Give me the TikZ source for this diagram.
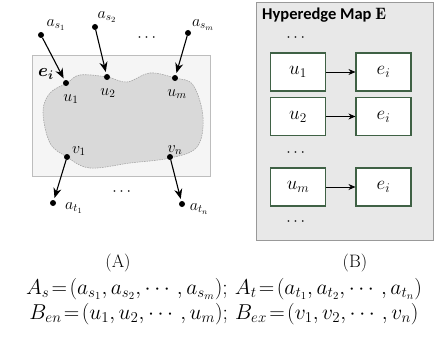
\RequirePackage{fix-cm}
\documentclass[tikz,border=0pt]{standalone}
\usepackage{amsmath,bm}
\usepackage{fontspec}
\newfontfamily\titlefont{Carlito}
\usetikzlibrary{arrows.meta}
\definecolor{boxgreen}{HTML}{3F6145}
\definecolor{rimgray}{HTML}{BDBDBD}
\definecolor{blobgray}{HTML}{D9D9D9}
\definecolor{panelgray}{HTML}{E8E8E8}
\newcommand{\tightlines}{\lineskiplimit=-50pt\relax}
\begin{document}
\begin{tikzpicture}[x=1pt,y=-1pt,
  pt/.style={circle,fill=black,inner sep=0pt,minimum size=6pt},
  arr/.style={-{Stealth[length=10pt,width=8pt]},line width=1.1pt,shorten >=2pt},
  lbl/.style={inner sep=0pt,font=\fontsize{16}{18}\selectfont},
  mapbox/.style={draw=boxgreen,line width=1.1pt,fill=white,minimum width=55pt,minimum height=38pt,inner sep=0pt,font=\fontsize{19}{21}\selectfont},
  maparr/.style={-{Stealth[length=7pt,width=6pt]},line width=0.8pt},
  dotsty/.style={inner sep=0pt,font=\fontsize{16}{18}\selectfont}]
\useasboundingbox (0,0) rectangle (447,345);
% Panel A
\node[draw=rimgray,fill=black!4,line width=1pt,minimum width=178pt,minimum height=120pt,inner sep=0pt] (frameA) at (121,116) {};
\draw[draw=black!35,fill=blobgray,dash pattern=on 1.5pt off 1pt,line width=0.6pt]
  plot[smooth cycle,tension=0.6] coordinates {(67,83) (80,75) (107,77) (127,82) (150,73) (175,78) (193,85) (203,117) (197,147) (170,158) (130,163) (90,168) (67,157) (50,143) (43,112) (50,93)};
\node[inner sep=0pt,font=\fontsize{18}{20}\selectfont] (ei) at (46,74) {$\bm{e_i}$};
\node[pt] (u1) at (66,83) {};
\node[pt] (u2) at (107,77) {};
\node[pt] (um) at (175,78) {};
\node[pt] (v1) at (67,157) {};
\node[pt] (vn) at (170,157) {};
\node[pt] (as1) at (41,35) {};
\node[pt] (as2) at (95,27) {};
\node[pt] (asm) at (188,33) {};
\node[pt] (at1) at (53,203) {};
\node[pt] (atn) at (182,204) {};
\node[lbl] (lu1) at (71,99) {$u_1$};
\node[lbl] (lu2) at (108,93) {$u_2$};
\node[lbl] (lum) at (177,94) {$u_m$};
\node[lbl] (lv1) at (79,151) {$v_1$};
\node[lbl] (lvn) at (175,150) {$v_n$};
\node[lbl] (las1) at (56,25) {$a_{s_1}$};
\node[lbl] (las2) at (107,17) {$a_{s_2}$};
\node[lbl] (lasm) at (203,25) {$a_{s_m}$};
\node[lbl] (lat1) at (74,208) {$a_{t_1}$};
\node[lbl] (latn) at (199,209) {$a_{t_n}$};
\node[dotsty] (d1) at (148,38) {$\cdots$};
\node[dotsty] (d2) at (123,192) {$\cdots$};
\draw[arr] (as1) -- (u1);
\draw[arr] (as2) -- (u2);
\draw[arr] (asm) -- (um);
\draw[arr] (v1) -- (at1);
\draw[arr] (vn) -- (atn);
% Panel B
\node[draw=black!40,fill=panelgray,line width=1pt,minimum width=177pt,minimum height=237pt,inner sep=0pt] (frameB) at (344.5,121.5) {};
\node[anchor=west,inner sep=0pt,font=\titlefont\bfseries\fontsize{16.5}{18}\selectfont] (title) at (262,15) {Hyperedge Map $\mathbf{E}$};
\node[dotsty] (b1) at (297,38) {$\cdots$};
\node[mapbox] (bu1) at (298,72) {$u_1$};
\node[mapbox] (be1) at (383.5,72) {$e_i$};
\node[mapbox] (bu2) at (298,116.5) {$u_2$};
\node[mapbox] (be2) at (383.5,116.5) {$e_i$};
\node[dotsty] (b2) at (297,153) {$\cdots$};
\node[mapbox] (bum) at (298,187) {$u_m$};
\node[mapbox] (bem) at (383.5,187) {$e_i$};
\node[dotsty] (b3) at (297,222) {$\cdots$};
\draw[maparr] (bu1) -- (be1);
\draw[maparr] (bu2) -- (be2);
\draw[maparr] (bum) -- (bem);
% captions
\node[inner sep=0pt,font=\fontsize{18}{20}\selectfont] (capA) at (118,263) {(A)};
\node[inner sep=0pt,font=\fontsize{18}{20}\selectfont] (capB) at (355,263) {(B)};
\node[inner sep=0pt,align=center,font=\fontsize{21.5}{25}\selectfont\tightlines] (eqs) at (224,301.5)
  {$A_s\!=\!(a_{s_1},a_{s_2},\cdots,a_{s_m});\,A_t\!=\!(a_{t_1},a_{t_2},\cdots,a_{t_n})$\\
   $B_{en}\!=\!(u_1,u_2,\cdots,u_m);\,B_{ex}\!=\!(v_1,v_2,\cdots,v_n)$};
\end{tikzpicture}
\end{document}
